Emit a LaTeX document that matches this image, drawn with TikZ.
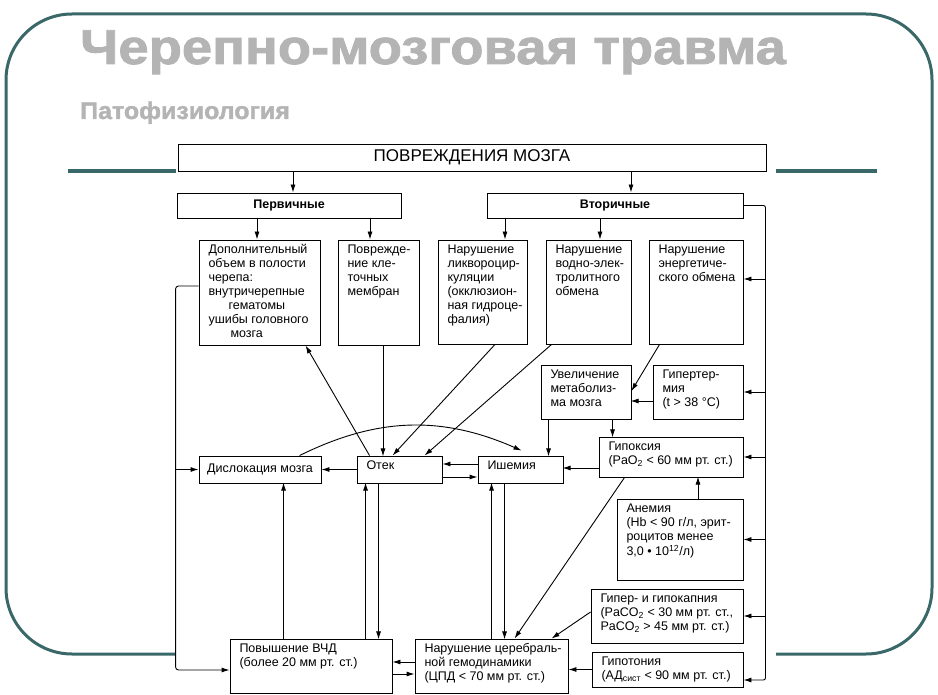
\documentclass[tikz,border=0pt]{standalone}
\usepackage{fontspec}
\setmainfont{Liberation Sans}
\newfontfamily\titelschrift{Liberation Sans Bold}[FakeBold=1.6]
\usetikzlibrary{arrows.meta}
\definecolor{rahmenfarbe}{RGB}{58,104,104}
\definecolor{titelgrau}{RGB}{180,180,180}
\newcommand{\kasten}[3]{\parbox[c][#2pt][t]{#1pt}{\begin{tabular}[t]{@{}l@{}}#3\end{tabular}}}

\begin{document}
\begin{tikzpicture}[x=1pt,y=-1pt]
    \tikzstyle{blok} = [draw, line width=0.9pt, inner xsep=9.5pt, inner ysep=4pt, font=\fontsize{12.5}{14}\selectfont]
    \tikzstyle{leiste} = [draw, line width=0.9pt, inner sep=0pt, font=\fontsize{12.5}{14}\selectfont]
    \tikzstyle{titel} = [titelgrau, anchor=base west, inner sep=0pt]
    \tikzstyle{pfeil} = [line width=0.9pt, -{Latex[length=8pt,width=5pt]}]
    \tikzstyle{rpfeil} = [line width=0.9pt, {Latex[length=8pt,width=5pt]}-]

      \useasboundingbox (0,0) rectangle (938,695);
      \draw[rahmenfarbe, line width=3pt, rounded corners=66pt] (6,14) rectangle (932,654);
      \draw[rahmenfarbe, line width=4pt] (68,171) -- (877,171);
      \fill[white] (176,138) rectangle (776,695);

      \draw
        (80,64) node[titel, font=\fontsize{49}{55}\selectfont\titelschrift] (titel){\scalebox{1.11}[1]{Черепно-мозговая травма}}
        (80,119) node[titel, font=\fontsize{24}{28}\selectfont\titelschrift] (untertitel){\scalebox{1.04}[1]{Патофизиология}};

      \draw
        (472,157.5) node[leiste, minimum width=588, minimum height=27, font=\fontsize{17}{19}\selectfont] (povr){ПОВРЕЖДЕНИЯ МОЗГА}
        (289,205.5) node[leiste, minimum width=224, minimum height=25] (perv){\bfseries Первичные}
        (615,205.5) node[leiste, minimum width=256, minimum height=25] (vtor){\bfseries Вторичные}
        (259.5,292.5) node[blok] (dop){\kasten{102}{97}{Дополнительный\\объем в полости\\черепа:\\внутричерепные\\\hspace*{20pt}гематомы\\ушибы головного\\\hspace*{22pt}мозга}}
        (378.5,292.5) node[blok] (pov){\kasten{62}{97}{Поврежде-\\ние кле-\\точных\\мембран}}
        (482.5,292) node[blok] (likv){\kasten{70}{96}{Нарушение\\ликвороцир-\\куляции\\(окклюзион-\\ная гидроце-\\фалия)}}
        (588.5,292) node[blok] (vodn){\kasten{66}{96}{Нарушение\\водно-элек-\\тролитного\\обмена}}
        (696,292) node[blok] (energ){\kasten{75}{96}{Нарушение\\энергетиче-\\ского обмена}}
        (586,392) node[blok] (metab){\kasten{71}{46}{Увеличение\\метаболиз-\\ма мозга}}
        (698,392) node[blok] (gipert){\kasten{71}{46}{Гипертер-\\мия\\(t > 38 °C)}}
        (671,457) node[blok] (gipox){\kasten{125}{32}{Гипоксия\\(PaO\textsubscript{2} < 60 мм рт. ст.)}}
        (680,539.5) node[blok] (anem){\kasten{107}{73}{Анемия\\(Hb < 90 г/л, эрит-\\роцитов менее\\3,0 • 10\textsuperscript{12}/л)}}
        (667,616) node[blok] (kapn){\kasten{133}{46}{Гипер- и гипокапния\\(PaCO\textsubscript{2} < 30 мм рт. ст.,\\PaCO\textsubscript{2} > 45 мм рт. ст.)}}
        (667.5,669.5) node[blok] (gipot){\kasten{132}{27}{Гипотония\\(АД\textsubscript{сист} < 90 мм рт. ст.)}}
        (491.5,666) node[blok] (gemo){\kasten{134}{46}{Нарушение церебраль-\\ной гемодинамики\\(ЦПД < 70 мм рт. ст.)}}
        (311,666) node[blok] (vchd){\kasten{143}{46}{Повышение ВЧД\\(более 20 мм рт. ст.)}}
        (260,469.5) node[leiste, minimum width=122, minimum height=27] (dislok){Дислокация мозга}
        (399.5,469.5) node[blok] (otek){\kasten{66}{19}{Отек}}
        (520.5,469.5) node[blok] (ishem){\kasten{66}{19}{Ишемия}};

      \begin{scope}
        \draw[rpfeil] ([xshift=4pt]perv.north) -- ++(0,-22);
        \draw[rpfeil] ([xshift=16pt]vtor.north) -- ++(0,-22);
        \draw[rpfeil] ([xshift=-2.5pt]dop.north) -- ++(0,-22);
        \draw[rpfeil] ([xshift=-8.5pt]pov.north) -- ++(0,-22);
        \draw[rpfeil] ([xshift=22.5pt]likv.north) -- ++(0,-22);
        \draw[rpfeil] ([xshift=11.5pt]vodn.north) -- ++(0,-22);
        \draw[pfeil] ([xshift=4.5pt]pov.south) -- ++(0,111);
        \draw[pfeil] ([xshift=13pt]otek.north west) -- ([xshift=107pt]dop.south west);
        \draw[pfeil] ([xshift=12.5pt]likv.south) -- ([xshift=36pt]otek.north west);
        \draw[pfeil] ([xshift=6pt]vodn.south west) -- ([xshift=68pt]otek.north west);
        \draw[pfeil] ([xshift=11pt]energ.south west) -- ([yshift=1pt]metab.east);
        \draw[pfeil] ([yshift=-9pt]gipert.west) -- ++(-22,0);
        \draw[pfeil] ([xshift=8pt]metab.south west) -- ++(0,37);
        \draw[pfeil] ([xshift=72pt]metab.south west) -- ++(0,18);
        \draw[pfeil] ([yshift=-11pt]gipox.west) -- ++(-36,0);
        \draw[pfeil] ([xshift=18pt]anem.north) -- ++(0,-22);
        \draw[pfeil] ([xshift=26pt]gipox.south west) -- ([xshift=100pt]gemo.north west);
        \draw[pfeil] ([yshift=4pt]kapn.west) -- ([xshift=137pt]gemo.north west);
        \draw[pfeil] (gipot.west) -- (gipot.west -| gemo.east);
        \draw[pfeil] (otek.west) -- (dislok.east);
        \draw[pfeil] ([yshift=5.5pt]ishem.west) -- ([yshift=5.5pt]otek.east);
        \draw[pfeil] ([yshift=-7.5pt]otek.east) -- ([yshift=-7.5pt]ishem.west);
        \draw[pfeil] ([xshift=101pt]dislok.north west) to[bend left=25] ([xshift=44pt,yshift=5pt]ishem.north west);
        \draw[pfeil] ([yshift=4pt]gemo.west) -- ([yshift=4pt]vchd.east);
        \draw[pfeil] ([yshift=-8pt]vchd.east) -- ([yshift=-8pt]gemo.west);
        \draw[pfeil] ([xshift=54pt]vchd.north west) -- ++(0,-156);
        \draw[pfeil] ([xshift=136pt]vchd.north west) -- ++(0,-156);
        \draw[pfeil] ([xshift=22pt]otek.south west) -- ++(0,156);
        \draw[pfeil] ([xshift=77pt]gemo.north west) -- ++(0,-156);
        \draw[pfeil] ([xshift=27pt]ishem.south west) -- ++(0,156);
        \draw[pfeil, rounded corners=2pt] (vtor.east) -| ([xshift=22pt,yshift=-10.5pt]gipot.east) -- ([yshift=-10.5pt]gipot.east);
        \draw[rpfeil] ([yshift=13pt]energ.east) -- ++(22,0);
        \draw[rpfeil] (gipert.east) -- ++(22,0);
        \draw[rpfeil] (gipox.east) -- ++(22,0);
        \draw[rpfeil] (anem.east) -- ++(22,0);
        \draw[rpfeil] (kapn.east) -- ++(22,0);
        \draw[pfeil, rounded corners=3pt] ([yshift=6.5pt]dop.west) -| ([xshift=-54pt,yshift=-4pt]vchd.west) -- ([yshift=-4pt]vchd.west);
        \draw[rpfeil] (dislok.west) -- ++(-23,0);
      \end{scope}
    \end{tikzpicture}
\end{document}
